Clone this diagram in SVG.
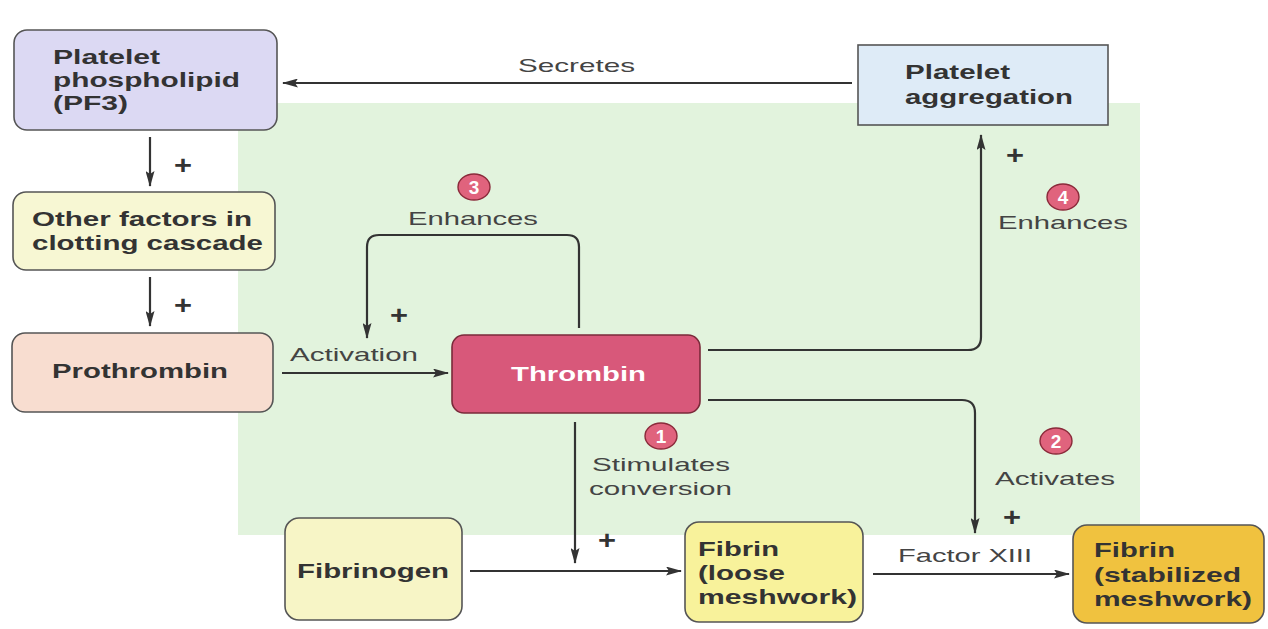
<svg xmlns="http://www.w3.org/2000/svg" width="1268" height="629" viewBox="0 0 1268 629">
<style>
.nb{font-family:"Liberation Sans",Arial,sans-serif;font-weight:bold;font-size:21px;fill:#333}
.lb{font-family:"Liberation Sans",Arial,sans-serif;font-size:19px;fill:#444}
.pl{font-family:"Liberation Sans",Arial,sans-serif;font-weight:bold;font-size:25px;fill:#333}
.num{font-family:"Liberation Sans",Arial,sans-serif;font-weight:bold;font-size:19px;fill:#fff}
.box{stroke:#555;stroke-width:1.6}
.ln{fill:none;stroke:#333;stroke-width:2.2}
.badge{fill:#e0637d;stroke:#8a2a3a;stroke-width:1.4}
</style>
<defs>
<marker id="ah" viewBox="0 0 16 9" refX="15" refY="4.5" markerWidth="16" markerHeight="9" markerUnits="userSpaceOnUse" orient="auto">
<path d="M0,0 L16,4.5 L0,9 L3,4.5 Z" fill="#333"/>
</marker>
</defs>
<rect width="1268" height="629" fill="#ffffff"/>
<rect id="bg" x="238" y="103" width="902" height="432" fill="#e2f3dd"/>

<g id="connectors">
<line class="ln" x1="852" y1="83" x2="283" y2="83" marker-end="url(#ah)"/>
<text class="lb" x="518" y="72" textLength="117" lengthAdjust="spacingAndGlyphs">Secretes</text>
<line class="ln" x1="150" y1="137" x2="150" y2="186" marker-end="url(#ah)"/>
<text class="pl" x="174" y="174" textLength="18" lengthAdjust="spacingAndGlyphs">+</text>
<line class="ln" x1="150" y1="277" x2="150" y2="326" marker-end="url(#ah)"/>
<text class="pl" x="174" y="314" textLength="18" lengthAdjust="spacingAndGlyphs">+</text>
<line class="ln" x1="282" y1="373" x2="448" y2="373" marker-end="url(#ah)"/>
<text class="lb" x="290" y="361" textLength="128" lengthAdjust="spacingAndGlyphs">Activation</text>
<path class="ln" d="M579,328 V247 Q579,235 567,235 H379 Q367,235 367,247 V338" marker-end="url(#ah)"/>
<text class="lb" x="408" y="225" textLength="130" lengthAdjust="spacingAndGlyphs">Enhances</text>
<text class="pl" x="390" y="324" textLength="18" lengthAdjust="spacingAndGlyphs">+</text>
<path class="ln" d="M708,350 H968 Q981,350 981,337 V135" marker-end="url(#ah)"/>
<text class="pl" x="1006" y="164" textLength="18" lengthAdjust="spacingAndGlyphs">+</text>
<text class="lb" x="998" y="229" textLength="130" lengthAdjust="spacingAndGlyphs">Enhances</text>
<path class="ln" d="M708,400 H962 Q975,400 975,413 V533" marker-end="url(#ah)"/>
<text class="lb" x="995" y="485" textLength="120" lengthAdjust="spacingAndGlyphs">Activates</text>
<text class="pl" x="1003" y="526" textLength="18" lengthAdjust="spacingAndGlyphs">+</text>
<line class="ln" x1="575" y1="422" x2="575" y2="563" marker-end="url(#ah)"/>
<text class="lb" x="592" y="471" textLength="138" lengthAdjust="spacingAndGlyphs">Stimulates</text>
<text class="lb" x="589" y="495" textLength="143" lengthAdjust="spacingAndGlyphs">conversion</text>
<text class="pl" x="598" y="549" textLength="18" lengthAdjust="spacingAndGlyphs">+</text>
<line class="ln" x1="470" y1="571" x2="681" y2="571" marker-end="url(#ah)"/>
<line class="ln" x1="873" y1="574" x2="1069" y2="574" marker-end="url(#ah)"/>
<text class="lb" x="898" y="562" textLength="134" lengthAdjust="spacingAndGlyphs">Factor XIII</text>
<g id="badge3"><ellipse class="badge" cx="474" cy="187" rx="16" ry="13"/><text class="num" x="474" y="194" text-anchor="middle">3</text></g>
<g id="badge4"><ellipse class="badge" cx="1063" cy="197" rx="16" ry="13"/><text class="num" x="1063" y="204" text-anchor="middle">4</text></g>
<g id="badge1"><ellipse class="badge" cx="661" cy="436" rx="16" ry="13"/><text class="num" x="661" y="443" text-anchor="middle">1</text></g>
<g id="badge2"><ellipse class="badge" cx="1056" cy="441" rx="16" ry="13"/><text class="num" x="1056" y="448" text-anchor="middle">2</text></g>
</g>

<g id="pf3">
<rect class="box" x="14" y="30" width="263" height="100" rx="13" fill="#dcd9f3"/>
<text class="nb" x="53" y="64" textLength="107" lengthAdjust="spacingAndGlyphs">Platelet</text>
<text class="nb" x="53" y="87" textLength="187" lengthAdjust="spacingAndGlyphs">phospholipid</text>
<text class="nb" x="53" y="110" textLength="75" lengthAdjust="spacingAndGlyphs">(PF3)</text>
</g>
<g id="other">
<rect class="box" x="13" y="192" width="262" height="78" rx="13" fill="#f7f7d3"/>
<text class="nb" x="32" y="226" textLength="220" lengthAdjust="spacingAndGlyphs">Other factors in</text>
<text class="nb" x="32" y="250" textLength="231" lengthAdjust="spacingAndGlyphs">clotting cascade</text>
</g>
<g id="prothrombin">
<rect class="box" x="12" y="333" width="261" height="79" rx="13" fill="#f8ddd0"/>
<text class="nb" x="52" y="378" textLength="176" lengthAdjust="spacingAndGlyphs">Prothrombin</text>
</g>
<g id="thrombin">
<rect x="452" y="335" width="248" height="78" rx="12" fill="#d8587a" stroke="#7a2a3a" stroke-width="1.6"/>
<text class="nb" x="511" y="381" textLength="135" lengthAdjust="spacingAndGlyphs" style="fill:#fff">Thrombin</text>
</g>
<g id="aggregation">
<rect class="box" x="858" y="45" width="250" height="80" fill="#deebf7"/>
<text class="nb" x="905" y="79" textLength="105" lengthAdjust="spacingAndGlyphs">Platelet</text>
<text class="nb" x="905" y="104" textLength="168" lengthAdjust="spacingAndGlyphs">aggregation</text>
</g>
<g id="fibrinogen">
<rect class="box" x="285" y="518" width="177" height="102" rx="14" fill="#f7f5c6"/>
<text class="nb" x="297" y="578" textLength="152" lengthAdjust="spacingAndGlyphs">Fibrinogen</text>
</g>
<g id="fibrin-loose">
<rect class="box" x="685" y="522" width="178" height="100" rx="14" fill="#f8f29b"/>
<text class="nb" x="698" y="556" textLength="81" lengthAdjust="spacingAndGlyphs">Fibrin</text>
<text class="nb" x="698" y="580" textLength="87" lengthAdjust="spacingAndGlyphs">(loose</text>
<text class="nb" x="698" y="604" textLength="159" lengthAdjust="spacingAndGlyphs">meshwork)</text>
</g>
<g id="fibrin-stabilized">
<rect class="box" x="1073" y="525" width="191" height="98" rx="14" fill="#f0c23f"/>
<text class="nb" x="1094" y="557" textLength="81" lengthAdjust="spacingAndGlyphs">Fibrin</text>
<text class="nb" x="1094" y="582" textLength="147" lengthAdjust="spacingAndGlyphs">(stabilized</text>
<text class="nb" x="1094" y="606" textLength="158" lengthAdjust="spacingAndGlyphs">meshwork)</text>
</g>
</svg>
